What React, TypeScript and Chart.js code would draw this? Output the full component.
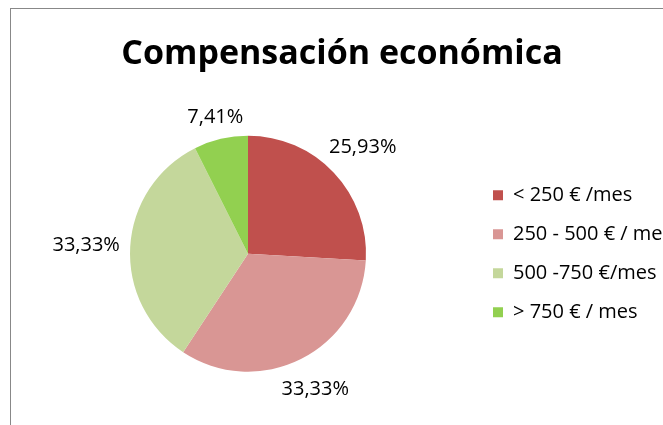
import React, { useEffect, useRef } from 'react';
import { Chart, registerables } from 'chart.js';

Chart.register(...registerables);

const chartTitle = 'Compensación económica';
const categories = ['< 250 € /mes', '250 - 500 € / mes', '500 -750 €/mes', '> 750 € / mes'];
const counts = [7, 9, 9, 2];
const sliceColors = ['#C0504D', '#D99694', '#C4D79B', '#92D050'];

const FONT = '"Open Sans", "Noto Sans", sans-serif';
const LABEL_SIZE = 20;
const LABEL_GAP = 8;

const outsideLabels = {
  id: 'outsideLabels',
  afterDatasetsDraw(chart: any) {
    const { ctx } = chart;
    const meta = chart.getDatasetMeta(0);
    const data = chart.data.datasets[0].data as number[];
    const total = data.reduce((a, b) => a + b, 0);
    ctx.save();
    ctx.font = `${LABEL_SIZE}px ${FONT}`;
    ctx.fillStyle = '#000';
    ctx.textAlign = 'center';
    ctx.textBaseline = 'alphabetic';
    meta.data.forEach((arc: any, i: number) => {
      const { x, y, startAngle, endAngle, outerRadius } = arc.getProps(
        ['x', 'y', 'startAngle', 'endAngle', 'outerRadius'],
        true
      );
      const mid = (startAngle + endAngle) / 2;
      const text = ((data[i] / total) * 100).toFixed(2).replace('.', ',') + '%';
      const w = ctx.measureText(text).width;
      const h = LABEL_SIZE * 0.75;
      const dx = Math.cos(mid);
      const dy = Math.sin(mid);
      const support = (Math.abs(dx) * w) / 2 + (Math.abs(dy) * h) / 2;
      const d = outerRadius + LABEL_GAP + 2 + support;
      // visual centre of the digits is ~0.36em above the baseline
      ctx.fillText(text, x + dx * d, y + dy * d + LABEL_SIZE * 0.36);
    });
    ctx.restore();
  },
};

export default function App() {
  const ref = useRef<HTMLCanvasElement | null>(null);

  useEffect(() => {
    if (!ref.current) return;
    const chart = new Chart(ref.current, {
      type: 'pie',
      data: {
        labels: categories,
        datasets: [
          {
            data: counts,
            backgroundColor: sliceColors,
            borderWidth: 0,
            radius: 118,
          } as any,
        ],
      },
      options: {
        responsive: false,
        animation: false,
        layout: { padding: { left: 11, right: 29, top: 0, bottom: 0 } },
        plugins: {
          tooltip: { enabled: false },
          title: {
            display: true,
            text: chartTitle,
            color: '#000',
            font: { family: FONT, size: 34, weight: 'bold' },
            padding: { top: 24.5, bottom: 8 },
          },
          legend: {
            position: 'right',
            fullSize: false,
            maxWidth: 188,
            labels: {
              color: '#000',
              font: { family: FONT, size: LABEL_SIZE },
              boxWidth: 10,
              boxHeight: 10,
              padding: 19,
            },
          },
        },
      },
      plugins: [outsideLabels],
    });
    return () => chart.destroy();
  }, []);

  return (
    <div
      style={{
        position: 'fixed',
        left: 0,
        top: 0,
        width: 663,
        height: 425,
        overflow: 'hidden',
        background: '#fff',
      }}
    >
      <div
        style={{
          position: 'absolute',
          left: 10,
          top: 8,
          width: 690,
          height: 440,
          border: '1px solid #888',
          background: '#fff',
        }}
      >
        <canvas
          ref={ref}
          width={680}
          height={416}
          style={{ position: 'absolute', left: 0, top: 0, width: 680, height: 416 }}
        />
      </div>
    </div>
  );
}
